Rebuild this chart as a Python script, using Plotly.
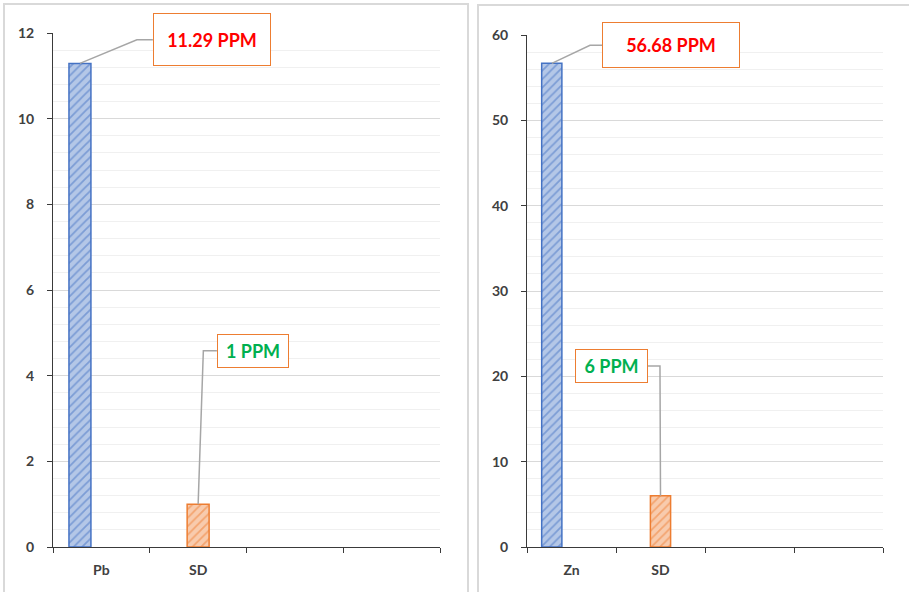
import plotly.graph_objects as go

W, H = 909, 592

# ---- data ---------------------------------------------------------------
pb_categories = ["Pb", "SD", "", ""]
pb_values = [11.29, 1]
zn_categories = ["Zn", "SD", "", ""]
zn_values = [56.68, 6]
unit = "PPM"

BLUE, BLUE_BG = "#4472c4", "#b4c7e7"
ORANGE, ORANGE_BG = "#ed7d31", "#f8cbad"
GRID_MAJOR, GRID_MINOR = "#d9d9d9", "#f0f0f0"
AXIS = "#3a3a3a"
TICK_FONT = dict(family="Lato, 'Open Sans', sans-serif", size=14, color="#404040")
LABEL_FONT = "Lato, 'Open Sans', sans-serif"

BAR_W = 0.227

# plot-area placement in pixels (left, right, top, bottom)
panels = [
    dict(xa="x", ya="y", px=(53, 440, 33, 547), ymax=12, ydtick=2, yminor=0.4,
         cats=pb_categories, vals=pb_values,
         # label box centre (data), box size (px), leader elbow and box edge (data)
         labels=[
             dict(cx=1.14, cy=11.84, w=118, h=53, color="#ff0000",
                  elbow=(0.367, 11.84), edge=(0.532, 11.84)),
             dict(cx=1.566, cy=4.58, w=72, h=34, color="#00b050",
                  elbow=(1.054, 4.58), edge=(1.194, 4.58)),
         ]),
    dict(xa="x2", ya="y2", px=(527, 883, 35, 547), ymax=60, ydtick=10, yminor=2,
         cats=zn_categories, vals=zn_values,
         labels=[
             dict(cx=1.118, cy=58.8, w=138, h=46, color="#ff0000",
                  elbow=(0.208, 58.8), edge=(0.343, 58.8)),
             dict(cx=0.449, cy=21.2, w=73, h=34, color="#00b050",
                  elbow=(0.994, 21.2), edge=(0.86, 21.2)),
         ]),
]

fig = go.Figure()
annotations, shapes = [], []

for i, p in enumerate(panels):
    vals = p["vals"]
    series = [
        dict(x=0, y=vals[0], offset=-0.335, line=BLUE, bg=BLUE_BG),
        dict(x=1, y=vals[1], offset=-BAR_W / 2, line=ORANGE, bg=ORANGE_BG),
    ]
    tops = []
    for s in series:
        fig.add_trace(go.Bar(
            x=[s["x"]], y=[s["y"]], width=BAR_W, offset=s["offset"],
            xaxis=p["xa"], yaxis=p["ya"],
            marker=dict(color=s["bg"], line=dict(color=s["line"], width=1.5),
                        pattern=dict(shape="/", fgcolor=s["line"], bgcolor=s["bg"],
                                     size=6, solidity=0.3)),
            hoverinfo="skip", showlegend=False,
        ))
        tops.append((s["x"] + s["offset"] + BAR_W / 2, s["y"]))

    for top, lab, v in zip(tops, p["labels"], vals):
        # leader line from bar top to the label box
        fig.add_trace(go.Scatter(
            x=[top[0], lab["elbow"][0], lab["edge"][0]],
            y=[top[1], lab["elbow"][1], lab["edge"][1]],
            mode="lines", line=dict(color="#a6a6a6", width=1.5),
            xaxis=p["xa"], yaxis=p["ya"], hoverinfo="skip", showlegend=False,
        ))
        annotations.append(dict(
            x=lab["cx"], y=lab["cy"], xref=p["xa"], yref=p["ya"],
            text=f"<b>{v:g} {unit}</b>", showarrow=False,
            xanchor="center", yanchor="middle",
            width=lab["w"] - 2, height=lab["h"] - 2, align="center", valign="middle",
            font=dict(family=LABEL_FONT, size=18, color=lab["color"]),
            bgcolor="white", bordercolor=ORANGE, borderwidth=1, borderpad=0,
        ))

    l, r, t, b = p["px"]
    xdom = [l / W, r / W]
    ydom = [(H - b) / H, (H - t) / H]
    suffix = "" if i == 0 else "2"
    fig.update_layout(**{
        "xaxis" + suffix: dict(
            domain=xdom, anchor="y" + suffix, range=[-0.5, 3.5], automargin=False,
            tickmode="array", tickvals=[0, 1, 2, 3],
            ticktext=[f"<b>{c}</b>" for c in p["cats"]],
            ticks="", showgrid=False, zeroline=False,
            showline=True, linecolor=AXIS, linewidth=1,
            tickfont=TICK_FONT, ticklabelstandoff=10,
            minor=dict(tickmode="array", tickvals=[-0.5, 0.5, 1.5, 2.5, 3.5],
                       ticks="outside", ticklen=5, tickcolor=AXIS, showgrid=False),
            fixedrange=True,
        ),
        "yaxis" + suffix: dict(
            domain=ydom, anchor="x" + suffix, range=[0, p["ymax"]], automargin=False,
            dtick=p["ydtick"], tick0=0, ticks="outside", ticklen=5, tickcolor=AXIS,
            showline=True, linecolor=AXIS, linewidth=1, zeroline=False,
            showgrid=True, gridcolor=GRID_MAJOR, gridwidth=1,
            minor=dict(dtick=p["yminor"], tick0=0, showgrid=True,
                       gridcolor=GRID_MINOR, gridwidth=1, ticks=""),
            tickprefix="<b>", ticksuffix="</b>",
            tickfont=TICK_FONT, ticklabelstandoff=10,
            fixedrange=True,
        ),
    })

# chart frames
for x0, x1, y1 in [(4, 468, 4), (478, 915, 5)]:
    shapes.append(dict(type="rect", xref="paper", yref="paper",
                       x0=x0 / W, x1=x1 / W, y0=-0.05, y1=(H - y1) / H,
                       line=dict(color="#d9d9d9", width=2), fillcolor="rgba(0,0,0,0)",
                       layer="below"))

fig.update_layout(
    width=W, height=H, margin=dict(l=0, r=0, t=0, b=0, autoexpand=False),
    paper_bgcolor="white", plot_bgcolor="white",
    barmode="overlay", showlegend=False,
    annotations=annotations, shapes=shapes,
)

fig.write_html("out.html")
